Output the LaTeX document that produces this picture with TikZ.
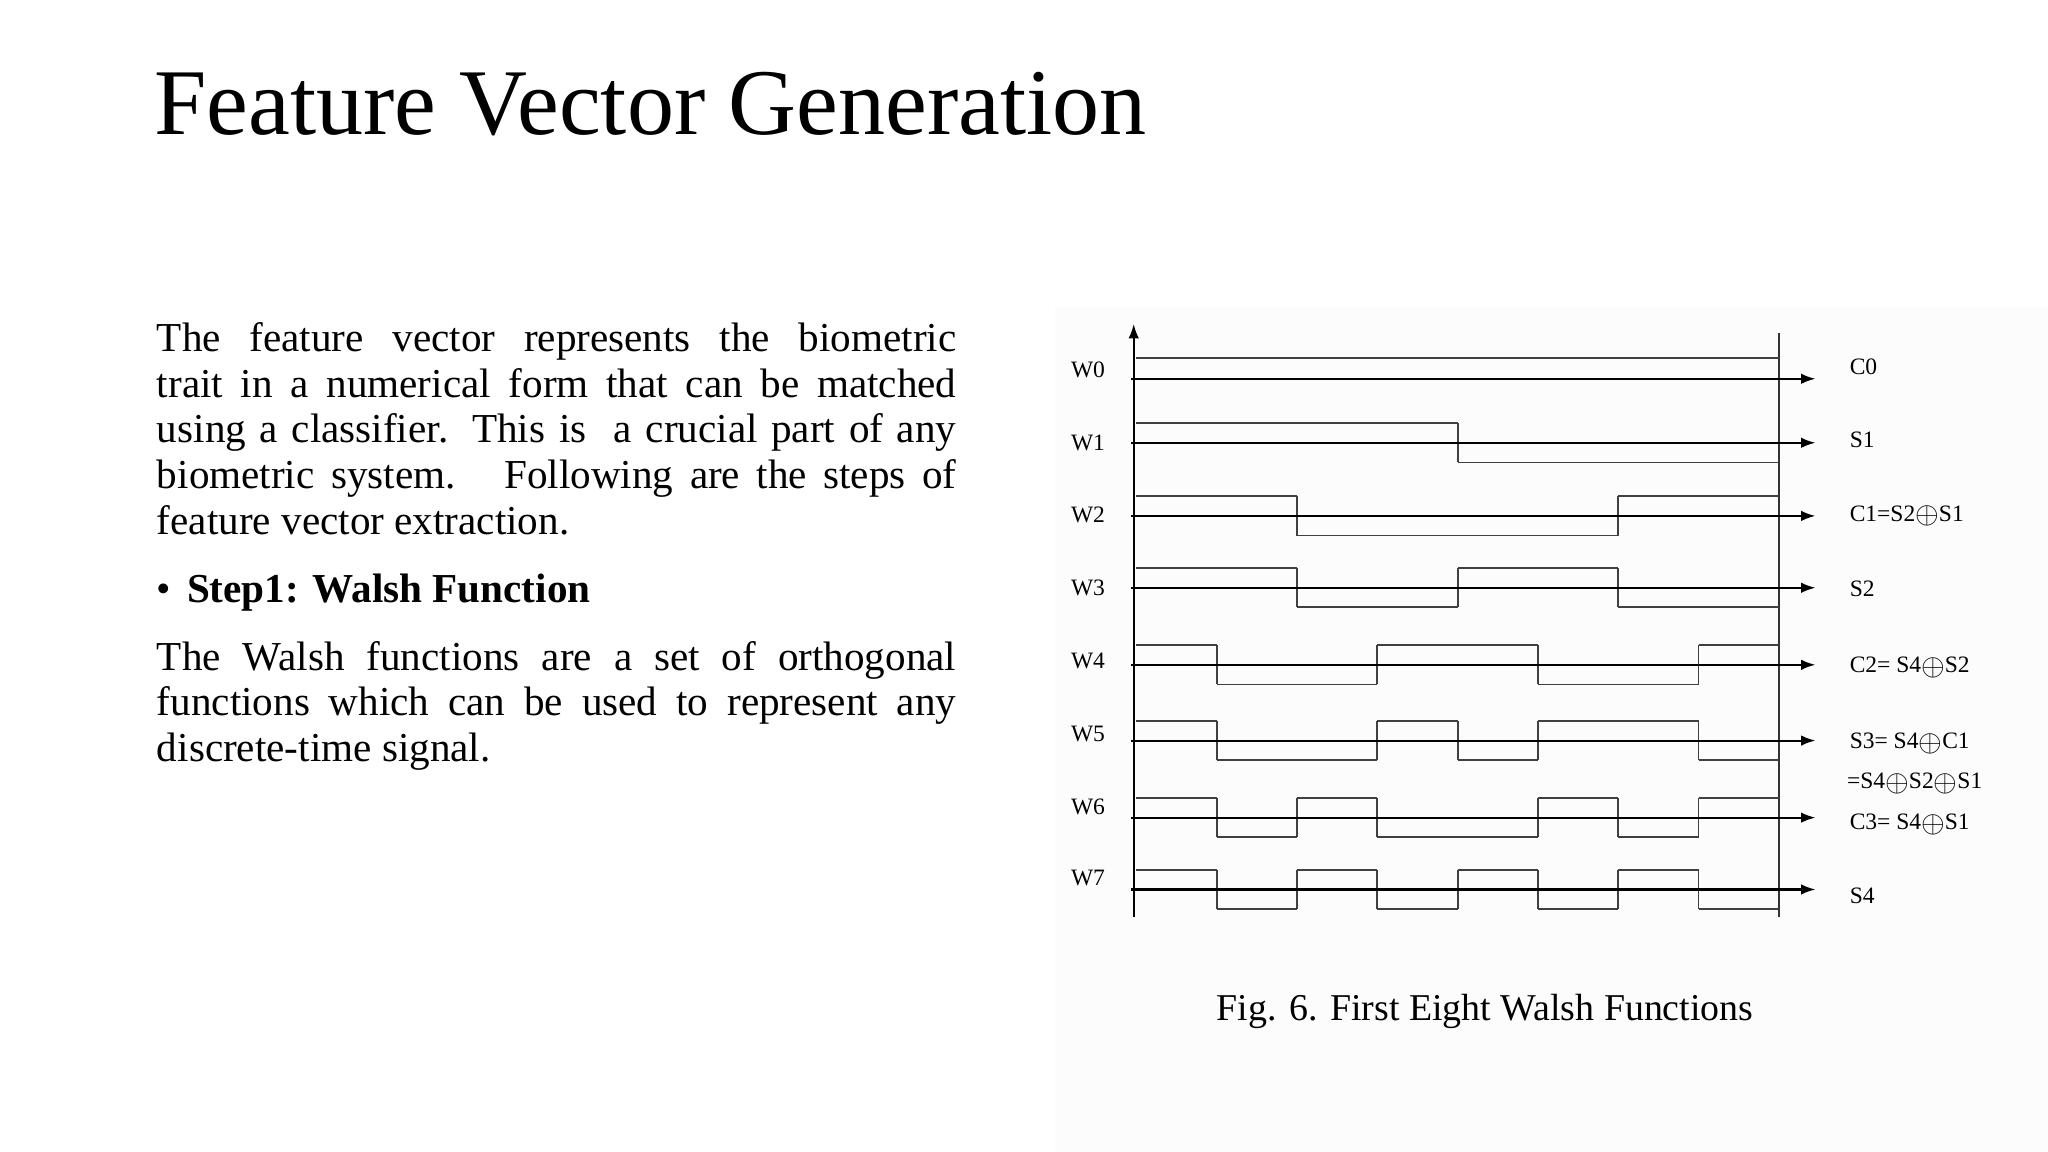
\documentclass[tikz,border=0pt]{standalone}
\usepackage{fontspec}
\setmainfont{Liberation Serif}
\usetikzlibrary{arrows.meta}
\tikzset{
  wave/.style={line width=1.3pt,color=black!75},
  axis/.style={line width=1.6pt,black},
  rowarrow/.style={line width=1.6pt,black,-{Latex[length=11pt,width=8pt]}},
  wlabel/.style={font=\fontsize{18}{20}\selectfont,anchor=center,inner sep=0pt},
  rlabel/.style={font=\fontsize{18}{20}\selectfont,anchor=west,inner sep=0pt},
  bodytext/.style={anchor=base west,inner sep=0pt,font=\fontsize{31.5}{35}\selectfont},
}
\newcommand\xo{\raisebox{-0.12em}{\scalebox{1.35}{$\oplus$}}}
\newcommand\jl[1]{\makebox[612pt][s]{#1}}
\begin{document}
\begin{tikzpicture}[x=1pt,y=-1pt]
\useasboundingbox (0,0) rectangle (1568,882);
\fill[white] (0,0) rectangle (1568,882);
\fill[black!1] (808,235) rectangle (1568,882);
% title
\node[anchor=base west,inner sep=0pt,font=\fontsize{72}{80}\selectfont] (title) at (118,103) {Feature Vector Generation};
% body
\node[bodytext] (l1) at (120,269) {\jl{The feature vector represents the biometric}};
\node[bodytext] (l2) at (120,304) {\jl{trait in a numerical form that can be matched}};
\node[bodytext] (l3) at (120,339) {\jl{using a classifier. This is \ a crucial part of any}};
\node[bodytext] (l4) at (120,374) {\jl{biometric system. \ Following are the steps of}};
\node[bodytext] (l5) at (120,409) {feature vector extraction.};
\node[bodytext] (b1) at (120,461) {\textbullet\hspace{12pt}\textbf{Step1: Walsh Function}};
\node[bodytext] (m1) at (120,513) {\jl{The Walsh functions are a set of orthogonal}};
\node[bodytext] (m2) at (120,548) {\jl{functions which can be used to represent any}};
\node[bodytext] (m3) at (120,583) {discrete-time signal.};
% caption
\node[anchor=base,inner sep=0pt,font=\fontsize{29}{32}\selectfont] (cap) at (1137,781) {Fig. 6. First Eight Walsh Functions};
% axes
\coordinate (ab) at (868,702); \coordinate (at) at (868,248);
\draw[axis,-{Latex[length=11pt,width=8pt]}] (ab) -- (at);
\coordinate (rb) at (1362,702); \coordinate (rt) at (1362,255);
\draw[line width=1.2pt,black!80] (rb) -- (rt);
% W0
\draw[wave] (870,274) -- (1362,274);
% rows
\foreach \b/\sig [count=\r from 1] in {
  339/{1,1,1,1,-1,-1,-1,-1},
  395/{1,1,-1,-1,-1,-1,1,1},
  450/{1,1,-1,-1,1,1,-1,-1},
  509/{1,-1,-1,1,1,-1,-1,1},
  567/{1,-1,-1,1,-1,1,1,-1},
  626/{1,-1,1,-1,-1,1,-1,1},
  681/{1,-1,1,-1,1,-1,1,-1}}{
  \foreach \s [count=\i from 0, remember=\s as \p (initially 0)] in \sig {
    \pgfmathsetmacro\xa{870+61.5*\i}
    \pgfmathsetmacro\xb{870+61.5*(\i+1)}
    \pgfmathsetmacro\yy{\b-15*\s}
    \draw[wave] (\xa,\yy) -- (\xb,\yy);
    \ifnum\i>0 \ifnum\s=\p\relax\else
      \draw[wave] (\xa,\b-15) -- (\xa,\b+15);
    \fi\fi
  }
}
% row arrows and labels
\foreach \b/\ly/\w in {290/283/0,339/339/1,395/394/2,450/450/3,509/506/4,567/562/5,626/618/6,681/672/7}{
  \coordinate (s\w) at (866,\b);
  \coordinate (e\w) at (1390,\b);
  \draw[rowarrow] (s\w) -- (e\w);
  \node[wlabel] (w\w) at (833,\ly) {W\w};
}
\node[rlabel] (r0) at (1416,281) {C0};
\node[rlabel] (r1) at (1416,337) {S1};
\node[rlabel] (r2) at (1416,395) {C1=S2\xo S1};
\node[rlabel] (r3) at (1416,451) {S2};
\node[rlabel] (r4) at (1416,511) {C2= S4\xo S2};
\node[rlabel] (r5) at (1416,569) {S3= S4\xo C1};
\node[rlabel] (r5b) at (1414,600) {=S4\xo S2\xo S1};
\node[rlabel] (r6) at (1416,631) {C3= S4\xo S1};
\node[rlabel] (r7) at (1416,686) {S4};
\end{tikzpicture}
\end{document}
